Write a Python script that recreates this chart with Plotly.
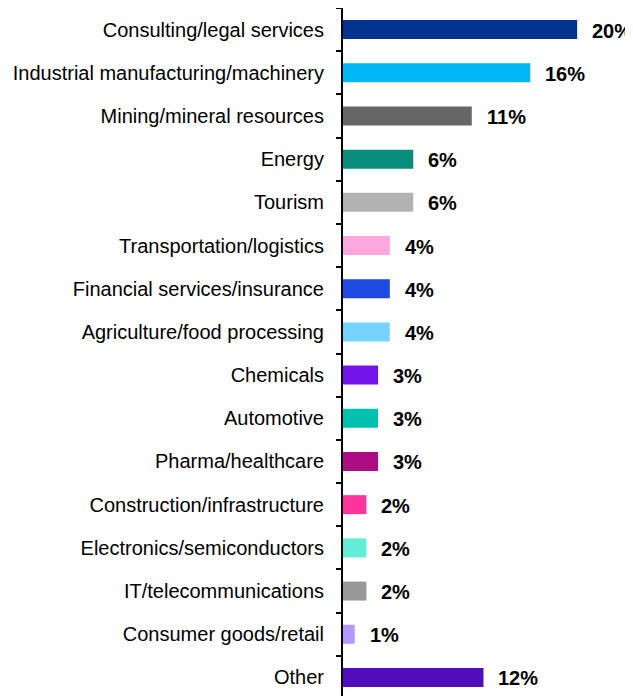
import plotly.graph_objects as go

categories = [
    "Consulting/legal services",
    "Industrial manufacturing/machinery",
    "Mining/mineral resources",
    "Energy",
    "Tourism",
    "Transportation/logistics",
    "Financial services/insurance",
    "Agriculture/food processing",
    "Chemicals",
    "Automotive",
    "Pharma/healthcare",
    "Construction/infrastructure",
    "Electronics/semiconductors",
    "IT/telecommunications",
    "Consumer goods/retail",
    "Other",
]
values = [20, 16, 11, 6, 6, 4, 4, 4, 3, 3, 3, 2, 2, 2, 1, 12]
labels = [f"{v}%" for v in values]
colors = [
    "#00338D", "#00B8F5", "#666666", "#098E7E", "#B2B2B2", "#FDA8DC",
    "#1E49E2", "#76D2FF", "#7213EA", "#00C0AE", "#AB0D82", "#FD349C",
    "#62EDD8", "#999999", "#B497FF", "#510DBC",
]

FONT = "Arial, Liberation Sans, sans-serif"

fig = go.Figure(go.Bar(
    x=values, y=categories, orientation="h",
    marker=dict(color=colors, line=dict(width=0)),
    hoverinfo="skip",
))

for c, v, t in zip(categories, values, labels):
    fig.add_annotation(x=v, y=c, text=f"<b>{t}</b>", showarrow=False,
                       xanchor="left", yanchor="middle", xshift=13, yshift=-1,
                       font=dict(family=FONT, size=20, color="#000000"))

# page body has an 8px default margin, so the figure is sized to fit the window
fig.update_layout(
    width=625, height=688,
    margin=dict(l=335, r=0, t=0, b=0, autoexpand=False),
    paper_bgcolor="white", plot_bgcolor="white",
    bargap=0.56,
    showlegend=False,
    font=dict(family=FONT, size=20, color="#000000"),
)
fig.update_xaxes(range=[0, 24.77], visible=False, showgrid=False, zeroline=False,
                 automargin=False)
fig.update_yaxes(
    type="category", categoryorder="array", categoryarray=categories,
    range=[15.43, -0.5], automargin=False,
    showline=True, linecolor="#000000", linewidth=2,
    ticks="outside", tickson="boundaries", ticklen=5, tickwidth=2, tickcolor="#000000",
    showgrid=False, zeroline=False,
    tickfont=dict(family=FONT, size=20, color="#000000"),
    ticklabelstandoff=13,
)

fig.write_html("out.html")
